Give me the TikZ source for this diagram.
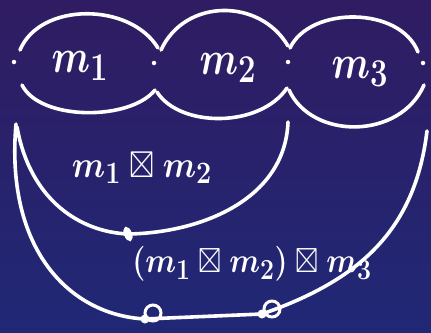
\documentclass[tikz,border=0pt]{standalone}
\usepackage{amssymb}
\usetikzlibrary{shapes.geometric}
\definecolor{bgtop}{RGB}{48,28,98}
\definecolor{bgbot}{RGB}{32,40,118}
\tikzset{
  ink/.style={draw=white, line width=3.6pt, line cap=round, line join=round},
  dotnode/.style={circle, fill=white, inner sep=0pt, minimum size=4.5pt},
  bead/.style={circle, draw=white, line width=3pt, inner sep=0pt, minimum size=16pt},
  blob/.style={circle, fill=white, inner sep=0pt, minimum size=9pt},
  knot/.style={ellipse, draw=white, fill=white, line width=2pt, inner sep=0pt, minimum width=6pt, minimum height=13pt, rotate=20},
  lbl/.style={text=white, inner sep=0pt, font=\fontsize{24.88}{30}\selectfont\boldmath}
}
\begin{document}
\begin{tikzpicture}[x=1pt,y=-1pt]
\shade[top color=bgtop, bottom color=bgbot] (0,0) rectangle (431,332);
\useasboundingbox (0,0) rectangle (431,332);
% dots
\node[dotnode] (d0) at (14,62) {};
\node[dotnode] (d1) at (154,63) {};
\node[dotnode] (d2) at (288,62) {};
\node[dotnode] (d3) at (423,63) {};
% oval endpoints
\coordinate (a1t) at (20,50);  \coordinate (b1t) at (158,48);
\coordinate (a1b) at (22,85);  \coordinate (b1b) at (155,90);
\coordinate (a2t) at (161,50); \coordinate (b2t) at (288,46);
\coordinate (a2b) at (157,92); \coordinate (b2b) at (287,88);
\coordinate (a3t) at (290,48); \coordinate (b3t) at (418,52);
\coordinate (a3b) at (289,90); \coordinate (b3b) at (424,85);
% ovals
\draw[ink] (a1t) .. controls (40,2) and (130,2) .. (b1t);
\draw[ink] (a1b) .. controls (40,121) and (130,121) .. (b1b);
\draw[ink] (a2t) .. controls (185,-2) and (260,-2) .. (b2t);
\draw[ink] (a2b) .. controls (180,128) and (260,128) .. (b2b);
\draw[ink] (a3t) .. controls (310,6) and (400,6) .. (b3t);
\draw[ink] (a3b) .. controls (312,140) and (400,140) .. (b3b);
% labels
\node[lbl] (m1) at (80,66) {\scalebox{1.5}[1.9]{$m_1$}};
\node[lbl] (m2) at (228,68) {\scalebox{1.5}[1.9]{$m_2$}};
\node[lbl] (m3) at (360,72) {\scalebox{1.5}[1.9]{$m_3$}};
% inner arc
\coordinate (i0) at (17,127);
\coordinate (i1) at (288,122);
\node[knot] (k) at (128,234) {};
\draw[ink] (i0) .. controls (30,200) and (80,232) .. (k.center)
           .. controls (200,233) and (285,200) .. (i1);
\node[lbl] (l12) at (142,168) {\scalebox{1.3}[1.5]{$m_1\boxtimes m_2$}};
% outer arc
\coordinate (o0) at (16,124);
\coordinate (o1) at (427,131);
\node[bead] (p1) at (153,313) {};
\node[bead] (p2) at (272,309) {};
\node[blob] (q1) at (145,319) {};
\node[blob] (q2) at (262,314) {};
\draw[ink] (o0) .. controls (5,250) and (70,315) .. (q1.center)
           -- (q2.center)
           .. controls (360,280) and (415,230) .. (o1);
\node[lbl] (l123) at (252,264) {\scalebox{1.2}[1.4]{$(m_1\boxtimes m_2)\boxtimes m_3$}};
\end{tikzpicture}
\end{document}
